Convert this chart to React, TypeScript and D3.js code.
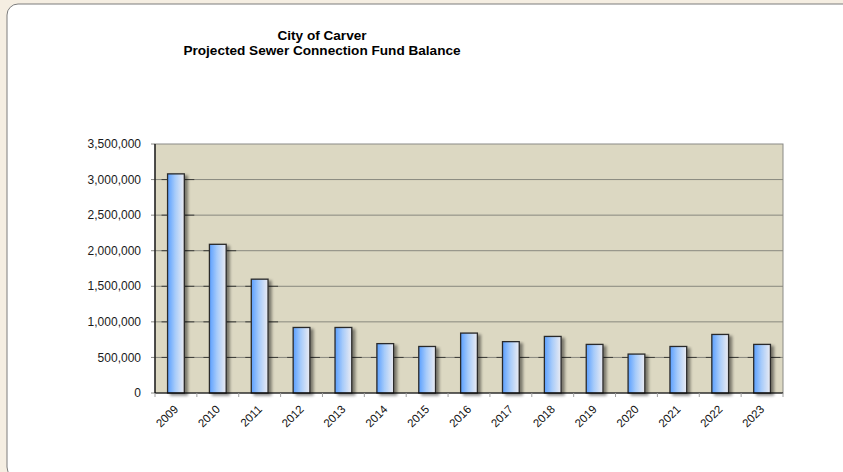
import React from "react";
import * as d3 from "d3";

const years = ["2009","2010","2011","2012","2013","2014","2015","2016","2017","2018","2019","2020","2021","2022","2023"];
const balances = [3080000, 2090000, 1600000, 921000, 921000, 694000, 654000, 842000, 722000, 795000, 683000, 547000, 654000, 823000, 683000];
const yTicks = [0, 500000, 1000000, 1500000, 2000000, 2500000, 3000000, 3500000];
const titleLines = ["City of Carver", "Projected Sewer Connection Fund Balance"];

const W = 843, H = 472;
const plot = { left: 155, top: 144, right: 783, bottom: 393 };

export default function App() {
  const x = d3.scaleBand<string>().domain(years).range([plot.left, plot.right]).paddingInner(0.6).paddingOuter(0.3);
  const y = d3.scaleLinear().domain([0, 3500000]).range([plot.bottom, plot.top]);
  const fmt = d3.format(",");
  const bandEdges = d3.range(years.length + 1).map(i => plot.left + i * (plot.right - plot.left) / years.length);
  const font = "'Liberation Sans', Arial, sans-serif";
  const gridVals = yTicks.filter(v => v > 0 && v < 3500000);
  return (
    <div style={{ position: "fixed", left: 0, top: 0, width: W, height: H }}>
      <svg width={W} height={H} style={{ display: "block" }}>
        <defs>
          <linearGradient id="barGrad" x1="0" x2="1" y1="0" y2="0">
            <stop offset="0" stopColor="#5a9fff" />
            <stop offset="0.45" stopColor="#a6cbfa" />
            <stop offset="1" stopColor="#ececf2" />
          </linearGradient>
          <filter id="shadow" x="-20%" y="-5%" width="160%" height="120%">
            <feGaussianBlur in="SourceAlpha" stdDeviation="1.5" />
            <feOffset dx="3" dy="2" result="b" />
            <feComponentTransfer><feFuncA type="linear" slope="0.45" /></feComponentTransfer>
            <feMerge><feMergeNode /><feMergeNode in="SourceGraphic" /></feMerge>
          </filter>
        </defs>
        <rect x={0} y={0} width={W} height={H} fill="#f5eee2" />
        <rect x={8} y={5} width={900} height={475} rx={11} fill="#bdb8ae" />
        <rect x={7} y={4} width={900} height={474} rx={11} fill="#ffffff" stroke="#7c7c7c" strokeWidth={1} />
        {titleLines.map((t, i) => (
          <text key={i} x={322} y={40 + i * 15} textAnchor="middle" fontFamily={font} fontWeight="bold" fontSize={13.6} fill="#000">{t}</text>
        ))}
        <rect x={plot.left} y={plot.top} width={plot.right - plot.left} height={plot.bottom - plot.top} fill="#dcd8c2" stroke="#8a8a86" strokeWidth={1} />
        {gridVals.map(v => (
          <line key={v} x1={plot.left} x2={plot.right} y1={y(v)} y2={y(v)} stroke="#88887e" strokeWidth={1} />
        ))}
        {gridVals.map(v => years.filter((yr, i) => balances[i] > v).map(yr => (
          <line key={"d" + v + yr} x1={Math.max(plot.left, x(yr)! - 6)} x2={Math.min(plot.right, x(yr)! + x.bandwidth() + 10)} y1={y(v)} y2={y(v)} stroke="#3c3c38" strokeWidth={1} />
        )))}
        {yTicks.map(v => (
          <g key={"t" + v}>
            <line x1={plot.left - 4} x2={plot.left} y1={y(v)} y2={y(v)} stroke="#8a8a86" />
            <text x={141} y={y(v)} dy="0.35em" textAnchor="end" fontFamily={font} fontSize={12} fill="#1a1a1a">{fmt(v)}</text>
          </g>
        ))}
        {years.map((yr, i) => (
          <rect key={yr} x={x(yr)!} y={y(balances[i])} width={x.bandwidth()} height={plot.bottom - y(balances[i])}
            fill="url(#barGrad)" stroke="#2a2a2a" strokeWidth={1.3} filter="url(#shadow)" />
        ))}
        <line x1={plot.left} x2={plot.left} y1={plot.top} y2={plot.bottom} stroke="#000" strokeWidth={1.2} />
        <line x1={plot.left} x2={plot.right} y1={plot.bottom} y2={plot.bottom} stroke="#000" strokeWidth={1.2} />
        {bandEdges.map((e, i) => (
          <line key={"e" + i} x1={e} x2={e} y1={plot.bottom} y2={plot.bottom + 4} stroke="#a0a0a0" />
        ))}
        {years.map(yr => {
          const cx = x(yr)! + x.bandwidth() / 2 + 3;
          const cy = plot.bottom + 17;
          return (
            <text key={"l" + yr} x={cx} y={cy} transform={`rotate(-45 ${cx} ${cy})`} textAnchor="end" fontFamily={font} fontSize={11.5} fill="#111">{yr}</text>
          );
        })}
      </svg>
    </div>
  );
}
